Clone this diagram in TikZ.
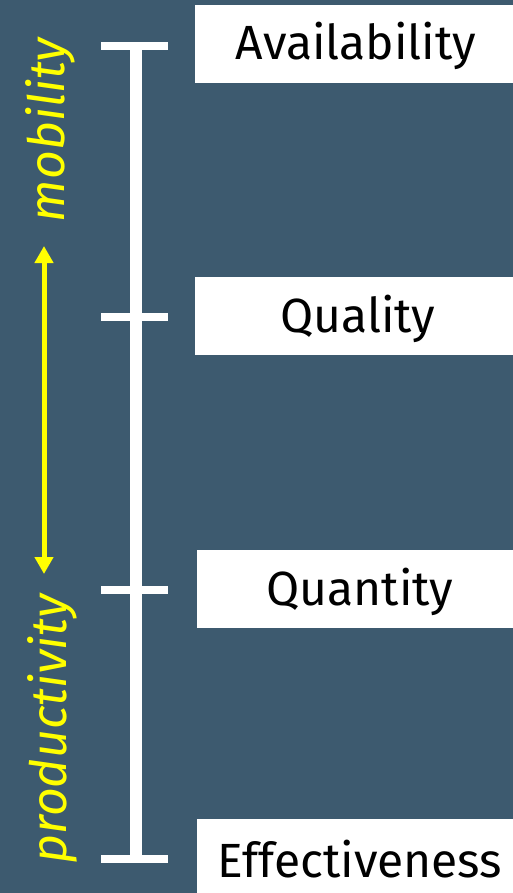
\documentclass[tikz,border=0pt]{standalone}
\usepackage{fontspec}
\setmainfont{Fira Sans}
\usetikzlibrary{arrows.meta}
\definecolor{bg}{HTML}{3D5A6F}
\definecolor{yel}{HTML}{FFFF00}
\begin{document}
\begin{tikzpicture}[x=1pt,y=-1pt,
  boxtext/.style={text=black,font=\fontsize{48}{52}\selectfont,anchor=center},
  scalebar/.style={draw=white,line width=12pt},
  tickmark/.style={draw=white,line width=8pt},
  sidetext/.style={text=yel,font=\fontsize{50}{54}\selectfont\itshape,rotate=90,anchor=center}]
\fill[bg] (0,0) rectangle (513,893);
\useasboundingbox (0,0) rectangle (513,893);
% boxes
\fill[white] (195,5) rectangle (513,83);
\fill[white] (195,277) rectangle (513,355);
\fill[white] (197,550) rectangle (513,628);
\fill[white] (197,819) rectangle (513,893);
\node[boxtext] (avail) at (356,46) {Availability};
\node[boxtext] (qual) at (358,319) {Quality};
\node[boxtext] (quant) at (360,592) {Quantity};
\node[boxtext] (eff) at (360,859) {Effectiveness};
% scale
\coordinate (top) at (136,46);
\coordinate (bot) at (136,859);
\draw[scalebar] (top) -- (bot);
\foreach \y/\n in {46/t1,317/t2,589.5/t3,859/t4}{
  \coordinate (\n l) at (101,\y);
  \coordinate (\n r) at (168,\y);
  \draw[tickmark] (\n l) -- (\n r);
}
% yellow arrow
\coordinate (ya) at (44,246);
\coordinate (yb) at (44,574);
\draw[yel,line width=5pt,{Triangle[width=18pt,length=17pt]}-{Triangle[width=18pt,length=17pt]}] (ya) -- (yb);
\node[sidetext] (mob) at (50,130) {mobility};
\node[sidetext] (prod) at (52,729) {productivity};
\end{tikzpicture}
\end{document}
